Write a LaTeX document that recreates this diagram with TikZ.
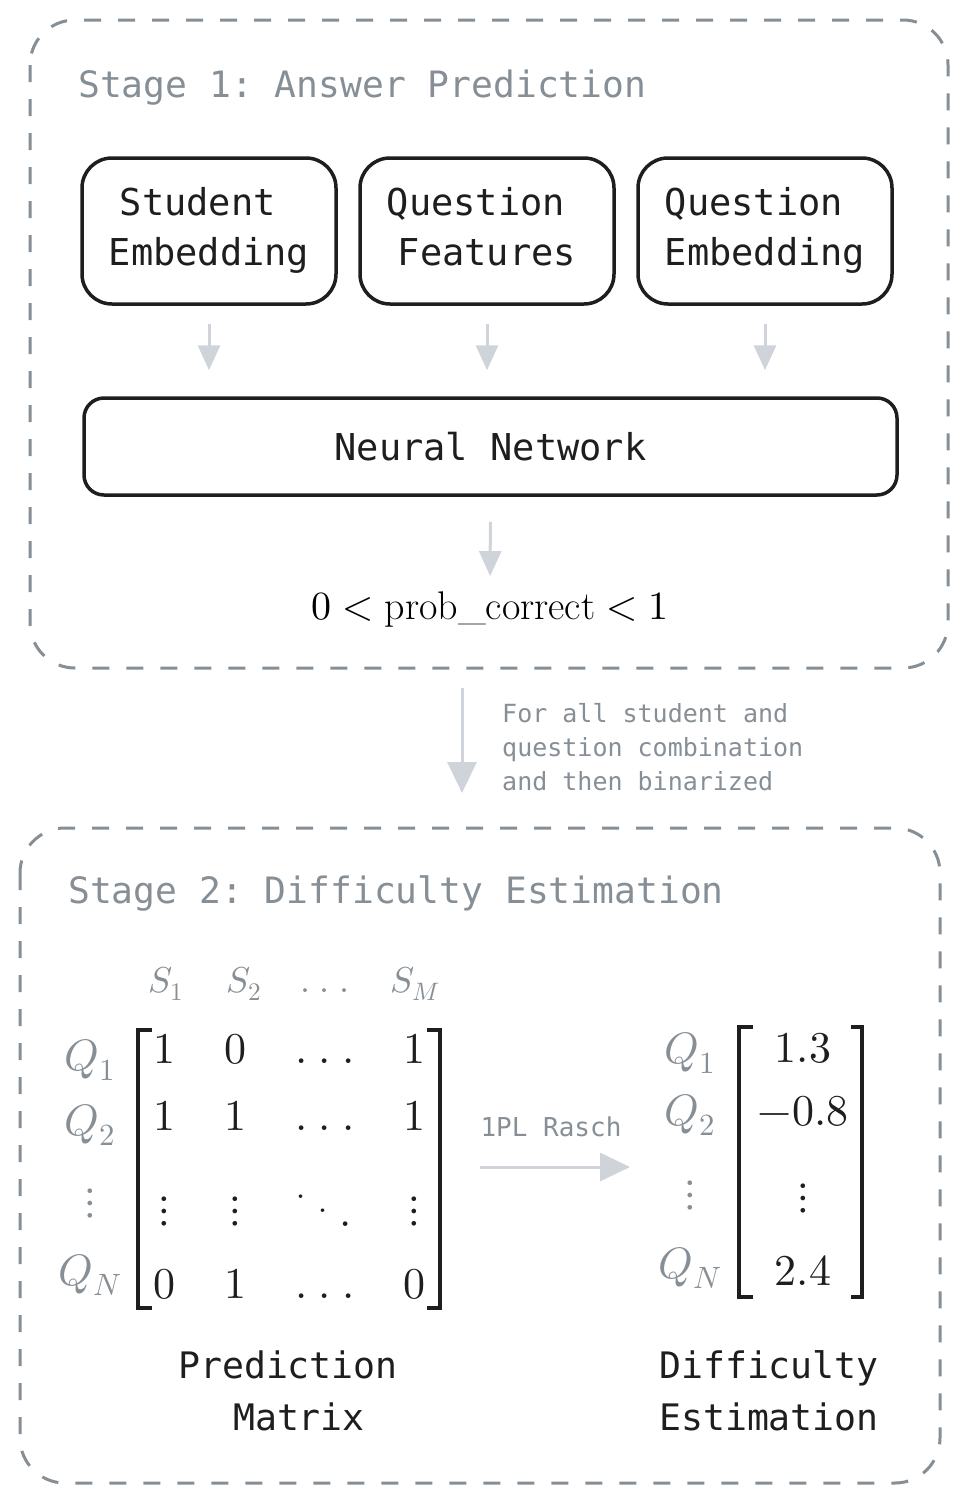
\documentclass[tikz,border=0pt]{standalone}
\usepackage{amsmath}
\usepackage{unicode-math}
\setmathfont{Latin Modern Math}
\newfontfamily\handfont{DejaVu Sans Mono}
\usetikzlibrary{arrows.meta,positioning}
\frenchspacing

\definecolor{framegray}{HTML}{868E96}
\definecolor{arrowgray}{HTML}{CED4DA}
\definecolor{inkblack}{HTML}{1E1E1E}

\newcommand{\celldots}{.\mkern4.5mu.\mkern4.5mu.}
\newcommand{\celldiag}{\raisebox{0.64em}{.}\mkern4.5mu\raisebox{0.32em}{.}\mkern4.5mu.}

\tikzset{
  stageframe/.style={draw=framegray, line width=3pt, dash pattern=on 17pt off 17pt, rounded corners=45pt},
  stagetitle/.style={anchor=base west, inner sep=0pt, text=framegray, font=\handfont\fontsize{36.3}{40}\selectfont},
  inputbox/.style={draw=inkblack, line width=3.5pt, rounded corners=30pt, minimum width=254pt, minimum height=146pt,
    align=center, text depth=9pt, text=inkblack, font=\handfont\fontsize{37}{50}\selectfont},
  flow/.style={draw=arrowgray, line width=3pt, -{Triangle[length=25pt,width=22pt]}},
  bigflow/.style={draw=arrowgray, line width=3pt, -{Triangle[length=31pt,width=29pt]}},
  note/.style={inner sep=0pt, text=framegray, align=left, font=\handfont\fontsize{25}{34}\selectfont},
  caption/.style={inner sep=0pt, align=center, text=inkblack, font=\handfont\fontsize{36.5}{52}\selectfont},
  cell/.style={inner sep=0pt, anchor=base, text=inkblack, font=\fontsize{44}{50}\selectfont},
  rowlabel/.style={cell, text=framegray},
  colhead/.style={inner sep=0pt, anchor=base, text=framegray, font=\fontsize{36}{40}\selectfont},
  bracket/.style={draw=inkblack, line width=4pt},
}

\begin{document}
\begin{tikzpicture}[x=1pt,y=-1pt]
  \useasboundingbox (0,0) rectangle (967,1502);

  %%%%%%%%%%%%%%%% Stage 1 %%%%%%%%%%%%%%%%
  \draw[stageframe] (30,20) rectangle (948,668);
  \node[stagetitle] (stageone) at (78,97) {Stage 1: Answer Prediction};

  \node[inputbox] (stuemb) at (209,231) {Student\hphantom{x}\\Embedding};
  \node[inputbox, right=20.5pt of stuemb] (qfeat) {Question\hphantom{x}\\Features};
  \node[inputbox, right=20.5pt of qfeat] (qemb) {Question\hphantom{x}\\Embedding};

  \node[draw=inkblack, line width=3.5pt, rounded corners=20pt, minimum width=813pt, minimum height=97pt,
    text=inkblack, font=\handfont\fontsize{37}{40}\selectfont] (nn) at (490.5,446.5) {Neural Network};

  \foreach \src in {stuemb,qfeat,qemb}
    \draw[flow, shorten <=18pt, shorten >=26pt] (\src.south) -- (\src.south |- nn.north);

  \node[inner sep=0pt, font=\fontsize{40}{44}\selectfont] (prob) at (490,610) {$0 < \text{prob\_correct} < 1$};
  \draw[flow, shorten <=25pt, shorten >=16pt] (nn.south) -- (prob.north);

  %%%%%%%%%%%%%%%% between the stages %%%%%%%%%%%%%%%%
  \coordinate (passtop) at (462,688);
  \coordinate (passend) at (462,793);
  \draw[bigflow] (passtop) -- (passend);
  \node[note, anchor=west] (passnote) at (502,747) {For all student and\\question combination\\and then binarized};

  %%%%%%%%%%%%%%%% Stage 2 %%%%%%%%%%%%%%%%
  \draw[stageframe] (20,828) rectangle (940,1483);
  \node[stagetitle] (stagetwo) at (68,903) {Stage 2: Difficulty Estimation};

  % column heads
  \node[colhead] (sa) at (166,992) {$S_1$};
  \node[colhead] (sb) at (244,992) {$S_2$};
  \node[colhead] (sd) at (325,992) {$\celldots$};
  \node[colhead] (sm) at (415,992) {$S_M$};

  % prediction matrix
  \foreach \r/\y/\ql/\ca/\cb/\cd in {1/1063/1070/1/0/1, 2/1130/1135/1/1/1, N/1298/1285/0/1/0} {
    \node[cell] (pm\r a) at (164,\y) {$\ca$};
    \node[cell] (pm\r b) at (235,\y) {$\cb$};
    \node[cell] (pm\r c) at (325,\y) {$\celldots$};
    \node[cell] (pm\r d) at (414,\y) {$\cd$};
    \node[rowlabel] (pmq\r) at (90,\ql) {$Q_{\r}$};
  }
  \node[cell, anchor=center] (pmva) at (164,1211) {$\vdots$};
  \node[cell, anchor=center] (pmvb) at (235,1211) {$\vdots$};
  \node[cell, anchor=center] (pmvc) at (324,1211) {$\celldiag$};
  \node[cell, anchor=center] (pmvd) at (414,1211) {$\vdots$};
  \node[rowlabel, anchor=center] (pmqv) at (90,1203) {$\vdots$};

  \draw[bracket] (152,1030) -- (138,1030) -- (138,1308) -- (152,1308);
  \draw[bracket] (427,1030) -- (440,1030) -- (440,1308) -- (427,1308);

  % rasch step
  \coordinate (raschfrom) at (480,1167);
  \coordinate (raschto) at (630,1167);
  \draw[draw=arrowgray, line width=3pt, -{Triangle[length=30pt,width=28pt]}] (raschfrom) -- (raschto);
  \node[note, font=\handfont\fontsize{26}{30}\selectfont] (raschlabel) at (551,1127) {1PL Rasch};

  % difficulty vector
  \foreach \r/\y/\ql/\v in {1/1062/1063/1.3, 2/1125/1125/-0.8, N/1285/1278/2.4} {
    \node[cell] (dv\r) at (803,\y) {$\v$};
    \node[rowlabel] (dvq\r) at (690,\ql) {$Q_{\r}$};
  }
  \node[cell, anchor=center] (dvv) at (803,1198) {$\vdots$};
  \node[rowlabel, anchor=center] (dvqv) at (690,1195) {$\vdots$};

  \draw[bracket] (753,1027) -- (739,1027) -- (739,1297) -- (753,1297);
  \draw[bracket] (851,1027) -- (862,1027) -- (862,1297) -- (851,1297);

  % captions
  \node[caption] (pmcap) at (288,1391) {Prediction\\\hphantom{x}Matrix};
  \node[caption] (dvcap) at (769,1391) {Difficulty\\Estimation};
\end{tikzpicture}
\end{document}
